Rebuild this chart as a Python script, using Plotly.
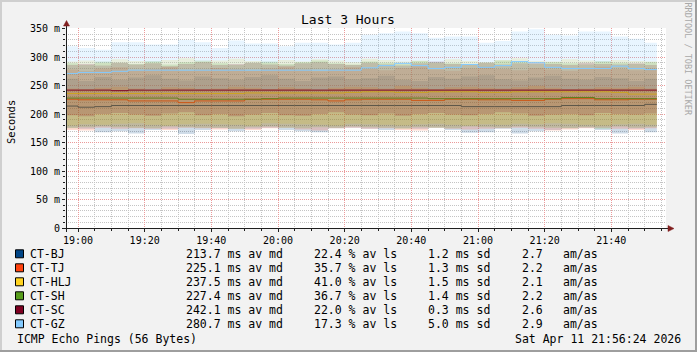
import plotly.graph_objects as go
from datetime import datetime, timedelta

# ---------------- data ----------------
hosts = ["CT-BJ", "CT-TJ", "CT-HLJ", "CT-SH", "CT-SC", "CT-GZ"]
colors = ["#004586", "#ff420e", "#ffd320", "#579d1c", "#7e0021", "#83caff"]
avg_md = ["213.7", "225.1", "237.5", "227.4", "242.1", "280.7"]
loss_pct = ["22.4", "35.7", "41.0", "36.7", "22.0", "17.3"]
sd_ms = ["1.2", "1.3", "1.5", "1.4", "0.3", "5.0"]
am_as = ["2.7", "2.2", "2.1", "2.2", "2.6", "2.9"]

y_tickvals = [0, 50, 100, 150, 200, 250, 300, 350]
y_ticktext = ["0", "50 m", "100 m", "150 m", "200 m", "250 m", "300 m", "350 m"]

# 5-minute bins, 18:55 ... 21:50 (36 bins), data ends 21:53:40
bin_start = datetime(2026, 4, 11, 18, 55)
n_bins = 36
data_end = datetime(2026, 4, 11, 21, 53, 40)
times = [bin_start + timedelta(minutes=5 * k) for k in range(n_bins)] + [data_end]

# median lines (ms)
med_bj = [214,212,213,215,215,215,215,215,215,215,215,215,215,215,215,215,215,215,
          215,215,215,215,215,215,213,213,213,213,213,213,215,215,215,215,215,217]
med_tj = [226,225,225,225,223,223,223,220,223,223,223,226,226,226,226,225,223,225,
          226,226,226,224,224,226,226,225,225,224,224,226,227,227,225,225,226,226]
med_hlj = [236,236,236,236,236,236,236,236,236,236,236,237,237,237,237,237,237,238,
           239,239,238,238,239,239,239,238,238,239,239,239,239,239,239,238,235,235]
med_sh = [228,228,228,228,228,228,228,226,226,226,226,226,227,228,228,228,228,228,
          228,228,228,228,227,227,227,227,227,227,227,227,229,229,227,227,227,227]
med_sc = [242,242,242,241,242,242,242,242,242,242,242,242,242,242,242,242,242,242,
          242,242,242,242,242,242,242,242,242,242,242,242,242,242,242,242,242,242]
med_gz = [271,273,273,275,277,277,277,277,277,277,277,277,277,277,277,277,277,277,
          281,285,289,285,280,282,287,282,285,292,290,282,280,280,280,284,280,278]

# smoke bands (low / high, ms)
lo_bj = [176,174,168,170,166,172,174,165,172,175,170,174,176,172,170,168,175,176,
         174,172,175,174,176,172,167,168,174,166,170,172,175,176,172,166,174,168]
hi_bj = [262,258,265,260,264,268,262,259,266,263,260,265,268,262,258,264,266,261,
         263,267,260,258,265,262,266,268,261,259,264,267,262,260,265,263,258,262]
lo_tj = [172,171,176,174,175,174,172,176,175,173,174,172,175,176,173,171,175,176,
         174,175,172,171,176,174,173,174,175,176,174,171,173,175,176,174,172,175]
hi_tj = [278,275,280,282,277,279,283,276,278,281,279,276,280,283,278,275,279,282,
         280,277,281,284,278,276,280,283,279,277,281,278,276,280,283,279,277,280]
lo_hlj = [180,182,181,183,184,181,180,182,183,182,181,180,184,183,182,181,180,183,
          182,181,180,182,183,181,180,182,181,183,182,184,183,181,180,182,183,181]
hi_hlj = [292,294,290,296,293,291,295,298,292,294,297,293,290,295,292,296,294,291,
          297,295,292,294,290,296,293,291,295,298,293,292,296,294,291,295,293,292]
lo_sh = [175,177,178,177,176,175,178,177,176,176,174,177,178,176,175,177,176,178,
         177,176,174,177,176,175,178,177,176,178,177,176,175,177,174,178,176,177]
hi_sh = [289,286,292,290,288,293,287,291,294,289,286,290,292,288,291,294,289,287,
         292,290,288,293,291,289,286,290,294,292,288,291,289,287,293,290,288,291]
lo_sc = [198,196,200,202,199,197,201,203,198,200,196,199,202,198,197,200,203,199,
         198,201,197,200,202,199,198,200,203,201,197,199,200,198,202,200,199,201]
hi_sc = [286,288,285,290,287,289,284,288,291,286,288,290,287,285,289,291,288,286,
         290,287,285,289,292,288,286,290,287,289,291,288,286,290,288,287,289,286]
lo_gz = [245,244,246,248,245,243,247,246,244,245,248,246,244,247,245,243,246,248,
         247,245,249,246,244,247,248,246,245,247,249,246,244,245,247,246,248,245]
hi_gz = [319,316,313,326,326,322,322,330,326,316,329,324,324,319,325,325,322,325,
         339,342,345,342,334,336,336,325,328,345,349,339,338,345,345,336,332,325]

medians = [med_bj, med_tj, med_hlj, med_sh, med_sc, med_gz]
lows = [lo_bj, lo_tj, lo_hlj, lo_sh, lo_sc, lo_gz]
highs = [hi_bj, hi_tj, hi_hlj, hi_sh, hi_sc, hi_gz]

title_text = "Last 3 Hours"
ylabel = "Seconds"
footer_left = "ICMP Echo Pings (56 Bytes)"
footer_right = "Sat Apr 11 21:56:24 2026"
watermark = "RRDTOOL / TOBI OETIKER"

# ---------------- layout geometry ----------------
W, H = 697, 352
L, R, T, B = 66, 31, 28, 124
PW, PH = W - L - R, H - T - B
MONO = "DejaVu Sans Mono"

def px(xp):
    return (xp - L) / PW

def py(yp):
    return (H - B - yp) / PH

def rgba(hexc, a):
    hexc = hexc.lstrip("#")
    r, g, b = int(hexc[0:2], 16), int(hexc[2:4], 16), int(hexc[4:6], 16)
    return f"rgba({r},{g},{b},{a})"

def ext(v):
    return list(v) + [v[-1]]

fig = go.Figure()
for name, col, lo, hi, med in zip(hosts, colors, lows, highs, medians):
    fig.add_trace(go.Scatter(x=times, y=ext(lo), mode="lines", line=dict(width=0, shape="hv"),
                             hoverinfo="skip", showlegend=False))
    fig.add_trace(go.Scatter(x=times, y=ext(hi), mode="lines", line=dict(width=0, shape="hv"),
                             fill="tonexty", fillcolor=rgba(col, 0.19),
                             hoverinfo="skip", showlegend=False))
    fig.add_trace(go.Scatter(x=times, y=ext(med), mode="lines", name=name,
                             line=dict(width=1, color=col, shape="hv"), showlegend=False))

GRID = "#c4c4c4"
MGRID = "#eb9a9a"
fig.update_layout(
    width=W, height=H, margin=dict(l=L, r=R, t=T, b=B),
    paper_bgcolor="#f2f2f2", plot_bgcolor="#ffffff",
    font=dict(family=MONO, size=10, color="#000000"),
    xaxis=dict(type="date", range=[datetime(2026, 4, 11, 18, 56, 24), datetime(2026, 4, 11, 21, 56, 24)],
               tick0=datetime(2026, 4, 11, 19, 0), dtick=20 * 60 * 1000, tickformat="%H:%M",
               showgrid=True, gridcolor=MGRID, griddash="1px,1px", gridwidth=1,
               ticks="outside", ticklen=3, tickcolor="#1f1f1f", showline=False, zeroline=False,
               tickfont=dict(family=MONO, size=10),
               minor=dict(dtick=5 * 60 * 1000, showgrid=True, gridcolor=GRID, griddash="1px,1px",
                          gridwidth=1, ticks="outside", ticklen=2, tickcolor="#1f1f1f")),
    yaxis=dict(range=[0, 351], tickvals=y_tickvals, ticktext=y_ticktext,
               showgrid=True, gridcolor=MGRID, griddash="1px,1px", gridwidth=1,
               ticks="outside", ticklen=3, tickcolor="#1f1f1f", showline=False, zeroline=False,
               tickfont=dict(family=MONO, size=10),
               minor=dict(dtick=10, showgrid=True, gridcolor=GRID, griddash="1px,1px",
                          gridwidth=1, ticks="outside", ticklen=2, tickcolor="#1f1f1f")),
)

shapes = []
# frame (3D border)
shapes.append(dict(type="rect", xref="paper", yref="paper", x0=px(0), x1=px(W), y0=py(0), y1=py(2),
                   fillcolor="#cfcfcf", line=dict(width=0), layer="above"))
shapes.append(dict(type="rect", xref="paper", yref="paper", x0=px(0), x1=px(2), y0=py(0), y1=py(H),
                   fillcolor="#cfcfcf", line=dict(width=0), layer="above"))
shapes.append(dict(type="rect", xref="paper", yref="paper", x0=px(0), x1=px(W), y0=py(H - 2), y1=py(H),
                   fillcolor="#9e9e9e", line=dict(width=0), layer="above"))
shapes.append(dict(type="rect", xref="paper", yref="paper", x0=px(W - 2), x1=px(W), y0=py(0), y1=py(H),
                   fillcolor="#9e9e9e", line=dict(width=0), layer="above"))
# axes lines
AX = "#1f1f1f"
shapes.append(dict(type="line", xref="paper", yref="paper", x0=px(62), x1=px(669), y0=py(228.5), y1=py(228.5),
                   line=dict(color=AX, width=1), layer="above"))
shapes.append(dict(type="line", xref="paper", yref="paper", x0=px(66.5), x1=px(66.5), y0=py(232), y1=py(23),
                   line=dict(color=AX, width=1), layer="above"))
# arrows
ARROW = "#801f1f"
shapes.append(dict(type="path", xref="paper", yref="paper",
                   path=f"M {px(63.5)},{py(26)} L {px(69.5)},{py(26)} L {px(66.5)},{py(20.5)} Z",
                   fillcolor=ARROW, line=dict(color=ARROW, width=0.5), layer="above"))
shapes.append(dict(type="path", xref="paper", yref="paper",
                   path=f"M {px(668)},{py(225.5)} L {px(668)},{py(231.5)} L {px(674)},{py(228.5)} Z",
                   fillcolor=ARROW, line=dict(color=ARROW, width=0.5), layer="above"))

annotations = []
annotations.append(dict(text=title_text, xref="paper", yref="paper", x=px(348), y=py(19),
                        xanchor="center", yanchor="middle", showarrow=False,
                        font=dict(family=MONO, size=13), borderpad=0, borderwidth=0))
annotations.append(dict(text=ylabel, xref="paper", yref="paper", x=px(10.5), y=py(122.5),
                        xanchor="center", yanchor="middle", showarrow=False, textangle=-90,
                        font=dict(family=MONO, size=10.5), borderpad=0, borderwidth=0))
annotations.append(dict(text=watermark, xref="paper", yref="paper", x=px(687.5), y=py(59),
                        xanchor="center", yanchor="middle", showarrow=False, textangle=90,
                        font=dict(family=MONO, size=8.5, color="#a8a8a8"), borderpad=0, borderwidth=0))

LF = 11.5
row0, rowstep = 253.8, 14.0
for i, (name, col) in enumerate(zip(hosts, colors)):
    yc = row0 + rowstep * i
    shapes.append(dict(type="rect", xref="paper", yref="paper", x0=px(15.5), x1=px(23.5),
                       y0=py(yc - 4), y1=py(yc + 4), fillcolor=col,
                       line=dict(color="#000000", width=1), layer="above"))
    cols = [(30, name),
            (186, f"{avg_md[i]}\u00a0ms\u00a0av\u00a0md"),
            (314, f"{loss_pct[i]}\u00a0%\u00a0av\u00a0ls"),
            (428, f"{sd_ms[i]}\u00a0ms\u00a0sd"),
            (521.5, am_as[i]),
            (562.5, "am/as")]
    for xp, txt in cols:
        annotations.append(dict(text=txt, xref="paper", yref="paper", x=px(xp), y=py(yc),
                                xanchor="left", yanchor="middle", showarrow=False,
                                font=dict(family=MONO, size=LF), borderpad=0, borderwidth=0))

annotations.append(dict(text=footer_left.replace(" ", "\u00a0"), xref="paper", yref="paper", x=px(17), y=py(338.7),
                        xanchor="left", yanchor="middle", showarrow=False,
                        font=dict(family=MONO, size=LF), borderpad=0, borderwidth=0))
annotations.append(dict(text=footer_right.replace(" ", "\u00a0"), xref="paper", yref="paper", x=px(681), y=py(338.7),
                        xanchor="right", yanchor="middle", showarrow=False,
                        font=dict(family=MONO, size=LF), borderpad=0, borderwidth=0))

fig.update_layout(shapes=shapes, annotations=annotations)
fig.write_html("out.html")
